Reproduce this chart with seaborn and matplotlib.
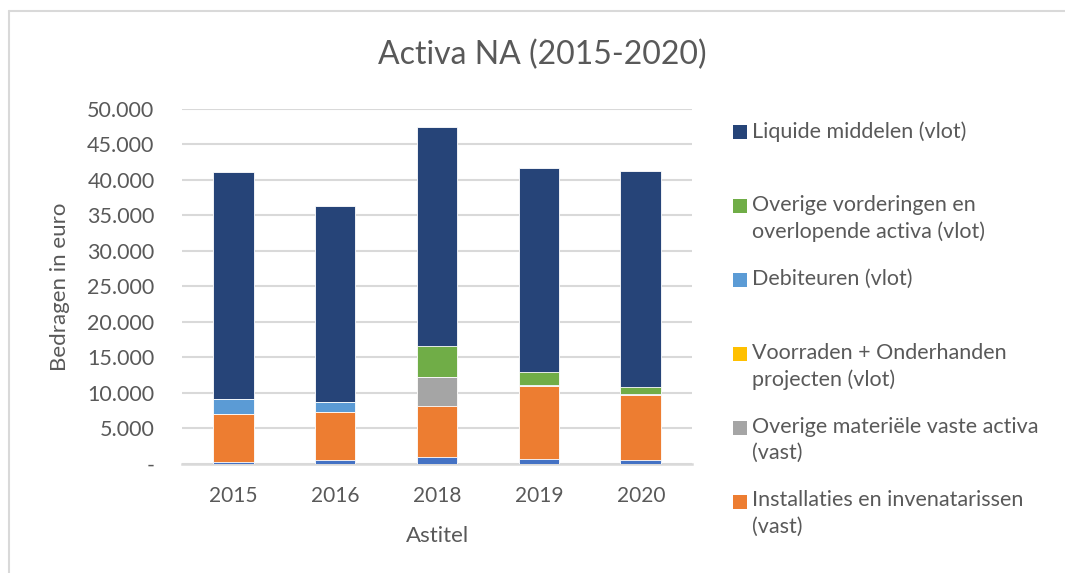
import numpy as np
import pandas as pd
import seaborn as sns
from matplotlib import pyplot as plt
from matplotlib.patches import Rectangle
from matplotlib.lines import Line2D
from matplotlib.ticker import FuncFormatter

# Data, stacking order bottom -> top
years = ["2015", "2016", "2018", "2019", "2020"]
series = [
    "Immateriële vaste activa (vast)",
    "Installaties en invenatarissen\n(vast)",
    "Overige materiële vaste activa\n(vast)",
    "Voorraden + Onderhanden\nprojecten (vlot)",
    "Debiteuren (vlot)",
    "Overige vorderingen en\noverlopende activa (vlot)",
    "Liquide middelen (vlot)",
]
immaterieel = [320, 520, 940, 750, 610]
installaties = [6680, 6760, 7270, 10190, 9070]
overige_materieel = [0, 0, 3970, 0, 0]
voorraden = [0, 0, 0, 80, 0]
debiteuren = [2110, 1450, 100, 150, 220]
overige_vorderingen = [0, 0, 4340, 1790, 900]
liquide = [31920, 27610, 30750, 28730, 30470]
colors = ["#4472C4", "#ED7D31", "#A5A5A5", "#FFC000", "#5B9BD5", "#70AD47", "#264478"]
in_legend = [False, True, True, True, True, True, True]

values = [immaterieel, installaties, overige_materieel, voorraden,
          debiteuren, overige_vorderingen, liquide]
df = pd.DataFrame(dict(zip(series, values)), index=years)
cum = df.cumsum(axis=1)

sns.set_theme(style="white")
plt.rcParams['font.family'] = ['Lato', 'DejaVu Sans']
txt = "#595959"

W, H = 1065, 573
fig = plt.figure(figsize=(W / 100, H / 100), dpi=100)
ax = fig.add_axes([182.3 / W, (H - 464) / H, 509.4 / W, (464 - 108.7) / H])

# draw cumulative bars top-down so each lower layer overlays the one above
for s, c in reversed(list(zip(series, colors))):
    d = pd.DataFrame({"year": years, "value": cum[s].values})
    sns.barplot(data=d, x="year", y="value", order=years, color=c, width=0.4,
                saturation=1, edgecolor="white", linewidth=0.6, ax=ax, zorder=3)

ax.set_ylim(0, 50000)
ax.set_xlim(-0.5, 4.5)
ax.set_yticks(np.arange(0, 50001, 5000))
ax.yaxis.set_major_formatter(FuncFormatter(
    lambda v, p: "-" if v == 0 else f"{int(v):,}".replace(",", ".")))
ax.grid(axis="y", color="#D9D9D9", linewidth=1.5, zorder=0)
ax.set_axisbelow(True)
for sp in ["top", "right", "left"]:
    ax.spines[sp].set_visible(False)
ax.spines["bottom"].set_color("#D9D9D9")
ax.spines["bottom"].set_linewidth(1.8)
ax.tick_params(axis="y", length=0, pad=20, labelsize=15.5, labelcolor=txt)
ax.tick_params(axis="x", length=0, pad=16, labelsize=15, labelcolor=txt)
ax.set_xlabel("Astitel", fontsize=16, color=txt, labelpad=14)
ax.set_ylabel("Bedragen in euro", fontsize=16, color=txt, labelpad=12)

fig.text(542 / W, 1 - 55 / H, "Activa NA (2015-2020)", ha="center", va="center",
         fontsize=23, color=txt)

# legend, drawn by hand to keep Excel's even slot spacing
slot = 0
for s, c, show in reversed(list(zip(series, colors, in_legend))):
    if not show:
        continue
    top = 125 + 73.9 * slot
    fig.patches.append(Rectangle((732.7 / W, 1 - (top + 14) / H), 14 / W, 14 / H,
                                 transform=fig.transFigure, facecolor=c,
                                 edgecolor="none", figure=fig))
    fig.text(752 / W, 1 - (top - 4) / H, s, ha="left", va="top", fontsize=15.5,
             color=txt, linespacing=1.42)
    slot += 1

# chart frame
fig.add_artist(Line2D([8.5 / W, 8.5 / W], [0, 1 - 10.5 / H], color="#D9D9D9",
                      linewidth=1.5, transform=fig.transFigure))
fig.add_artist(Line2D([8.5 / W, 1], [1 - 10.5 / H, 1 - 10.5 / H], color="#D9D9D9",
                      linewidth=1.5, transform=fig.transFigure))

fig.savefig("out.png", dpi=100)
